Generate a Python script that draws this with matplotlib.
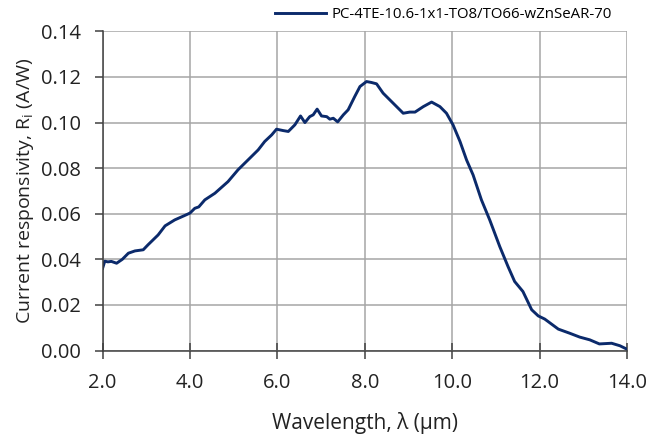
import numpy as np
import matplotlib
matplotlib.use('Agg')
import matplotlib.pyplot as plt
from matplotlib import rcParams

rcParams['font.family'] = ['Open Sans', 'DejaVu Sans']

# wavelength (um) and current responsivity (A/W)
wavelength = [2.00, 2.05, 2.12, 2.20, 2.32, 2.45, 2.59, 2.74, 2.93, 3.04, 3.27, 3.43,
              3.65, 3.85, 4.00, 4.11, 4.20, 4.34, 4.57, 4.87, 5.10, 5.37, 5.56, 5.71,
              5.87, 5.98, 6.13, 6.25, 6.40, 6.53, 6.63, 6.74, 6.82, 6.91, 7.01, 7.13,
              7.20, 7.28, 7.38, 7.51, 7.62, 7.77, 7.89, 8.04, 8.15, 8.27, 8.42, 8.65,
              8.88, 9.03, 9.15, 9.34, 9.53, 9.72, 9.87, 10.02, 10.18, 10.33, 10.48,
              10.67, 10.86, 11.09, 11.28, 11.43, 11.62, 11.82, 11.97, 12.12, 12.43,
              12.69, 12.92, 13.15, 13.37, 13.65, 13.84, 14.00]
responsivity = [0.0361, 0.0392, 0.0389, 0.0391, 0.0383, 0.0400, 0.0427, 0.0437, 0.0442,
                0.0464, 0.0507, 0.0547, 0.0573, 0.0590, 0.0603, 0.0624, 0.0630, 0.0661,
                0.0690, 0.0741, 0.0793, 0.0844, 0.0880, 0.0917, 0.0946, 0.0971, 0.0965,
                0.0961, 0.0990, 0.1029, 0.1000, 0.1026, 0.1034, 0.1059, 0.1029, 0.1026,
                0.1015, 0.1019, 0.1003, 0.1034, 0.1056, 0.1114, 0.1158, 0.1180, 0.1176,
                0.1170, 0.1129, 0.1085, 0.1041, 0.1046, 0.1046, 0.1070, 0.1090, 0.1070,
                0.1041, 0.0990, 0.0917, 0.0836, 0.0770, 0.0661, 0.0573, 0.0456, 0.0368,
                0.0303, 0.0259, 0.0179, 0.0152, 0.0138, 0.0094, 0.0076, 0.0059, 0.0047,
                0.0029, 0.0032, 0.0021, 0.0006]
series_name = 'PC-4TE-10.6-1x1-TO8/TO66-wZnSeAR-70'
x_ticks = [2, 4, 6, 8, 10, 12, 14]
y_ticks = [0.00, 0.02, 0.04, 0.06, 0.08, 0.10, 0.12, 0.14]

fig = plt.figure(figsize=(6.62, 4.36), dpi=100)
ax = fig.add_axes([0.155, 0.196, 0.792, 0.732])

ax.plot(wavelength, responsivity, color='#0b2a6b', linewidth=2.1, label=series_name)

ax.set_xlim(2, 14)
ax.set_ylim(0, 0.14)
ax.set_xticks(x_ticks)
ax.set_yticks(y_ticks)
ax.set_xticklabels(['%.1f' % v for v in x_ticks])
ax.set_yticklabels(['%.2f' % v for v in y_ticks])
ax.grid(True, color='#a6a6a6', linewidth=1.1)
ax.set_axisbelow(True)

for s in ['top', 'right']:
    ax.spines[s].set_visible(False)
for s in ['left', 'bottom']:
    ax.spines[s].set_color('#404040')
    ax.spines[s].set_linewidth(1.1)
ax.tick_params(axis='x', direction='inout', length=11, width=1.1, color='#404040',
               labelsize=14.5, labelcolor='#222222', pad=11)
ax.tick_params(axis='y', direction='out', length=5.5, width=1.1, color='#404040',
               labelsize=14.5, labelcolor='#222222', pad=10)

ax.set_xlabel('Wavelength, λ (µm)', fontsize=15, color='#222222', labelpad=13)
ax.set_ylabel('Current responsivity, R$_\\mathregular{i}$ (A/W)', fontsize=14,
              color='#222222', labelpad=4)

fig.legend(loc='center right', bbox_to_anchor=(612 / 662, 1 - 15 / 436), frameon=False,
           fontsize=10.8, handlelength=3.4, handletextpad=0.4, borderpad=0,
           borderaxespad=0)

plt.savefig('out.png')
